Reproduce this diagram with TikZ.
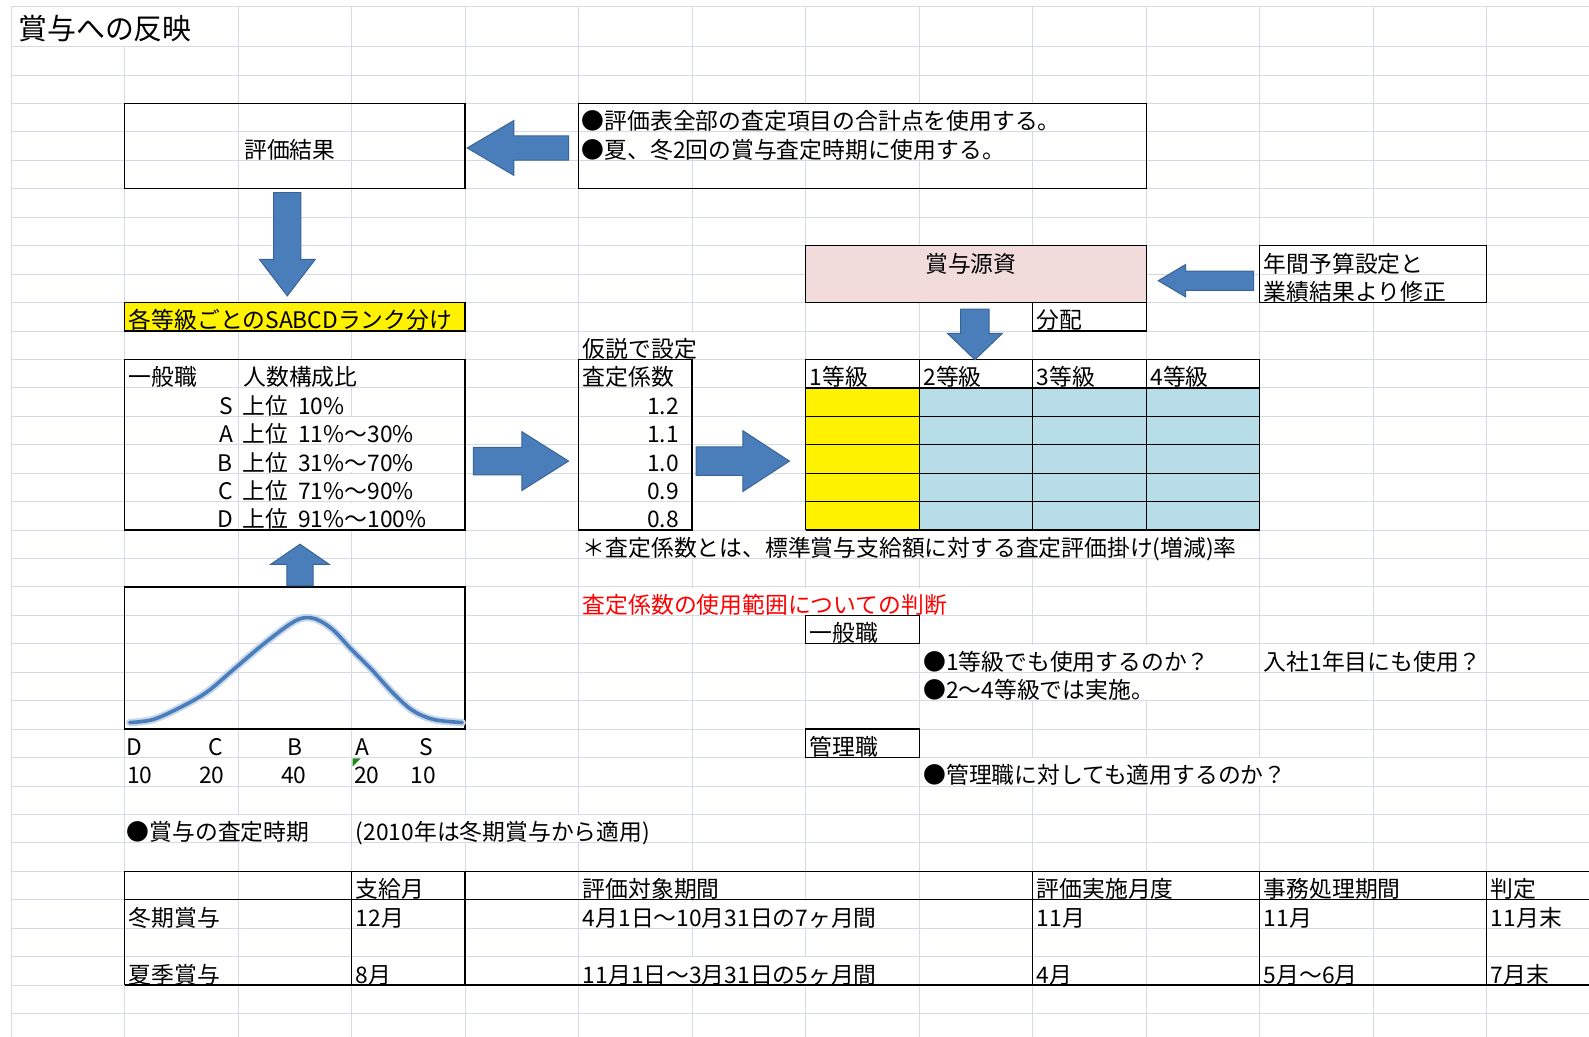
\documentclass[tikz,border=0pt]{standalone}
\usepackage{fontspec}
\setmainfont{Noto Sans CJK JP}
\definecolor{gridc}{HTML}{D5DAE3}
\definecolor{arrowf}{HTML}{4A7EBB}
\definecolor{arrowd}{HTML}{3A6494}
\definecolor{pinkf}{HTML}{F2DCDB}
\definecolor{bluef}{HTML}{B7DEE8}
\definecolor{curvec}{HTML}{4A7EBB}
\definecolor{xlgreen}{HTML}{1E8A1E}
\definecolor{xlred}{HTML}{FF0000}
\newcommand{\harrow}[6]{\filldraw[blockarrow] (#1,#2) -- (#3,{#2-#5}) -- (#3,{#2-#6}) -- (#4,{#2-#6}) -- (#4,{#2+#6}) -- (#3,{#2+#6}) -- (#3,{#2+#5}) -- cycle;}
\newcommand{\varrow}[6]{\filldraw[blockarrow] (#1,#2) -- ({#1-#5},#3) -- ({#1-#6},#3) -- ({#1-#6},#4) -- ({#1+#6},#4) -- ({#1+#6},#3) -- ({#1+#5},#3) -- cycle;}
\begin{document}
\begin{tikzpicture}[x=1pt,y=-1pt,
  gridline/.style={draw=gridc,line width=0.9pt},
  bord/.style={draw=black,line width=1.3pt},
  cellt/.style={anchor=base west,inner sep=0pt,font=\fontsize{22.5}{25}\selectfont},
  cellr/.style={cellt,anchor=base east},
  cellc/.style={cellt,anchor=base},
  blockarrow/.style={fill=arrowf,draw=arrowd,line width=1pt,line join=miter}]

\useasboundingbox (0,0) rectangle (1568,1023);
\fill[white] (0,0) rectangle (1568,1023);

% spreadsheet grid
\foreach \r in {0,...,34} \draw[gridline] (11,{46+28.06*\r}) -- (1568,{46+28.06*\r});
\draw[gridline] (11,6) -- (1568,6);
\foreach \k in {0,...,13} \draw[gridline] ({11+112*\k},6) -- ({11+112*\k},1023);

% grid hidden under overflowing text
\fill[white] (121,7) rectangle (125,45);
\foreach \x/\r in {683/2,795/2,907/2,1019/2,683/3,795/3,907/3,1355/7,1355/8,683/10,347/11,347/13,347/14,347/15,347/16,683/17,795/17,907/17,1019/17,1131/17,683/19,795/19,907/19,1019/21,1131/21,1355/21,1019/22,1131/22,1019/25,1131/25,1243/25,235/27,459/27,571/27,683/29,1131/29,1355/29,683/30,795/30,683/32,795/32}
  \fill[white] ({\x-2},{46+28.06*\r+0.9}) rectangle ({\x+2},{46+28.06*(\r+1)-0.9});

% filled cells
\fill[pinkf] (795,242.42) rectangle (1131,298.54);
\fill[yellow] (123,298.54) rectangle (459,326.60);
\fill[yellow] (795,382.72) rectangle (907,523.02);
\fill[bluef] (907,382.72) rectangle (1243,523.02);

% borders
\draw[bord] (123,102.12) rectangle (459,186.30);
\draw[bord] (571,102.12) rectangle (1131,186.30);
\draw[bord] (795,242.42) rectangle (1131,298.54);
\draw[bord] (1243,242.42) rectangle (1467,298.54);
\draw[bord] (1019,298.54) rectangle (1131,326.60);
\draw[bord] (123,298.54) rectangle (459,326.60);
\draw[bord] (123,354.66) rectangle (459,523.02);
\draw[bord] (571,354.66) rectangle (683,523.02);
\foreach \x in {795,907,1019,1131,1243} \draw[bord] (\x,354.66) -- (\x,523.02);
\foreach \y in {354.66,382.72,410.78,438.84,466.90,494.96,523.02} \draw[bord] (795,\y) -- (1243,\y);
\draw[bord] (123,579.14) rectangle (459,719.44);
\draw[bord] (795,607.20) rectangle (907,635.26);
\draw[bord] (795,719.44) rectangle (907,747.50);
\foreach \y in {859.74,887.80,971.98} \draw[bord] (123,\y) -- (1568,\y);
\foreach \x in {123,347,459,1019,1243,1467} \draw[bord] (\x,859.74) -- (\x,971.98);

% bell curve
\draw[line width=7.5pt,color=curvec!30,line cap=round,line join=round] plot[smooth,tension=0.55] coordinates {(128,713) (151,710) (178,698) (204,683) (230,661) (257,638) (283,618) (298,610) (312,611) (328,621) (347,641) (367,661) (387,683) (407,701) (428,710) (456,713)};
\draw[line width=3.6pt,color=curvec,line cap=round,line join=round] plot[smooth,tension=0.55] coordinates {(128,713) (151,710) (178,698) (204,683) (230,661) (257,638) (283,618) (298,610) (312,611) (328,621) (347,641) (367,661) (387,683) (407,701) (428,710) (456,713)};
\fill[xlgreen] (348,748.4) -- (356,748.4) -- (348,756.4) -- cycle;

% block arrows
\harrow{461}{146}{507}{561}{27}{12}
\harrow{561}{455}{515}{467}{29}{13.5}
\harrow{779}{455}{733}{687}{30}{14}
\harrow{1143}{277}{1170}{1237}{16}{9.5}
\varrow{283.5}{292}{256}{190}{27.5}{13.5}
\varrow{962}{355}{329}{305}{27}{14}
\varrow{296}{537}{557}{578}{29}{13}

% texts
\node[anchor=base west,inner sep=0pt,font=\fontsize{28.5}{30}\selectfont] (title) at (18,38.6) {賞与への反映};
\node[cellc] (hyoka) at (286,156.2) {評価結果};
\node[cellt] (use1) at (574,128.2) {●評価表全部の査定項目の合計点を使用する。};
\node[cellt] (use2) at (574,156.2) {●夏、冬2回の賞与査定時期に使用する。};
\node[cellc] (gensi) at (958,268.5) {賞与源資};
\node[cellt] (nen1) at (1247,268.5) {年間予算設定と};
\node[cellt] (nen2) at (1247,296.5) {業績結果より修正};
\node[cellt] (bunpai) at (1023,324.6) {分配};
\node[cellt] (rank) at (127,324.6) {各等級ごとのSABCDランク分け};
\node[cellt] (kasetsu) at (575,352.7) {仮説で設定};
\node[cellt] (ippan) at (127,380.7) {一般職};
\node[cellt] (ninzu) at (240,380.7) {人数構成比};
\node[cellt] (sateik) at (575,380.7) {査定係数};
\node[cellt] (g1) at (799,380.7) {1等級};
\node[cellt] (g2) at (911,380.7) {2等級};
\node[cellt] (g3) at (1023,380.7) {3等級};
\node[cellt] (g4) at (1135,380.7) {4等級};
\node[cellr] (rS) at (230,408.8) {S};
\node[cellr] (rA) at (230,436.8) {A};
\node[cellr] (rB) at (230,464.9) {B};
\node[cellr] (rC) at (230,493.0) {C};
\node[cellr] (rD) at (230,521.0) {D};
\node[cellt] (pS) at (239,408.8) {上位\hspace{0.45em}10\%};
\node[cellt] (pA) at (239,436.8) {上位\hspace{0.45em}11\%～30\%};
\node[cellt] (pB) at (239,464.9) {上位\hspace{0.45em}31\%～70\%};
\node[cellt] (pC) at (239,493.0) {上位\hspace{0.45em}71\%～90\%};
\node[cellt] (pD) at (239,521.0) {上位\hspace{0.45em}91\%～100\%};
\node[cellr] (v1) at (670,408.8) {1.2};
\node[cellr] (v2) at (670,436.8) {1.1};
\node[cellr] (v3) at (670,464.9) {1.0};
\node[cellr] (v4) at (670,493.0) {0.9};
\node[cellr] (v5) at (670,521.0) {0.8};
\node[cellt] (defn) at (575,549.1) {＊査定係数とは、標準賞与支給額に対する査定評価掛け(増減)率};
\node[cellt,text=xlred] (judge) at (575,605.2) {査定係数の使用範囲についての判断};
\node[cellt] (ippan2) at (799,633.3) {一般職};
\node[cellt] (q1) at (911,661.3) {●1等級でも使用するのか？};
\node[cellt] (q1b) at (1247,661.3) {入社1年目にも使用？};
\node[cellt] (q2) at (911,689.4) {●2～4等級では実施。};
\node[cellt] (kanri) at (799,745.5) {管理職};
\node[cellt] (q3) at (911,773.6) {●管理職に対しても適用するのか？};
\node[cellc] (lD) at (133,745.5) {D};
\node[cellc] (lC) at (213,745.5) {C};
\node[cellc] (lB) at (291,745.5) {B};
\node[cellc] (lA) at (358,745.5) {A};
\node[cellc] (lS) at (421,745.5) {S};
\node[cellc] (nD) at (138,773.6) {10};
\node[cellc] (nC) at (209,773.6) {20};
\node[cellc] (nB) at (290,773.6) {40};
\node[cellc] (nA) at (362,773.6) {20};
\node[cellc] (nS) at (418,773.6) {10};
\node[cellt] (timing) at (125,829.7) {●賞与の査定時期};
\node[cellt] (timing2) at (351,829.7) {(2010年は冬期賞与から適用)};
\node[cellt] (h1) at (351,885.8) {支給月};
\node[cellt] (h2) at (575,885.8) {評価対象期間};
\node[cellt] (h3) at (1023,885.8) {評価実施月度};
\node[cellt] (h4) at (1247,885.8) {事務処理期間};
\node[cellt] (h5) at (1471,885.8) {判定};
\node[cellt] (w0) at (127,913.9) {冬期賞与};
\node[cellt] (w1) at (351,913.9) {12月};
\node[cellt] (w2) at (575,913.9) {4月1日～10月31日の7ヶ月間};
\node[cellt] (w3) at (1023,913.9) {11月};
\node[cellt] (w4) at (1247,913.9) {11月};
\node[cellt] (w5) at (1471,913.9) {11月末};
\node[cellt] (s0) at (127,970.0) {夏季賞与};
\node[cellt] (s1) at (351,970.0) {8月};
\node[cellt] (s2) at (575,970.0) {11月1日～3月31日の5ヶ月間};
\node[cellt] (s3) at (1023,970.0) {4月};
\node[cellt] (s4) at (1247,970.0) {5月～6月};
\node[cellt] (s5) at (1471,970.0) {7月末};
\end{tikzpicture}
\end{document}
